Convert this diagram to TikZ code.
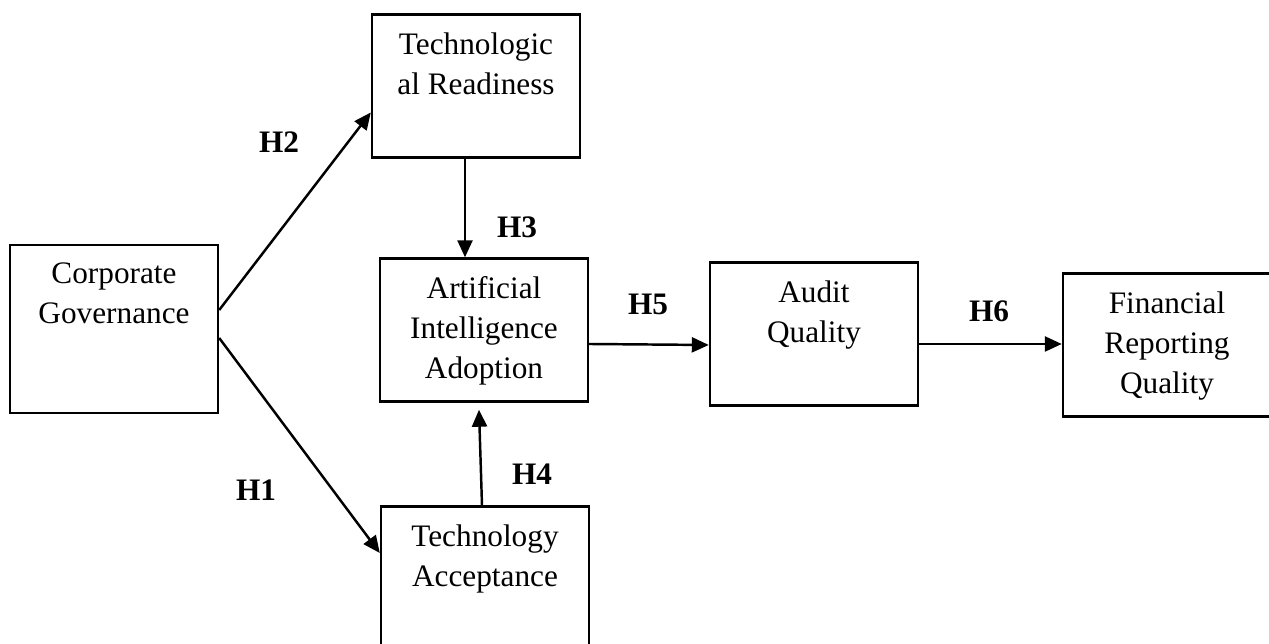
\documentclass[tikz,border=0pt]{standalone}
\usepackage{fontspec}
\setmainfont{Liberation Serif}
\usetikzlibrary{arrows.meta,positioning}

\tikzset{
  box/.style={draw, line width=1.4pt, minimum width=4.16cm, minimum height=2.86cm, inner sep=0pt},
  boxtext/.style={below=0.38cm, align=center, inner sep=0pt, font=\fontsize{17.8}{22.8}\selectfont},
  hyp/.style={inner sep=0pt, font=\bfseries\fontsize{17.8}{21}\selectfont},
  link/.style={line width=1.4pt, -{Triangle[length=0.34cm,width=0.3cm]}}
}

\begin{document}
\begin{tikzpicture}
  [x=0.02cm,y=-0.02cm]
\useasboundingbox (0,0) rectangle (1269,644);

\node (cg)[box, minimum height=3.36cm, label={[boxtext]north:Corporate\\Governance}] at (114,329) {};
  \node (tr)[box, label={[boxtext]north:Technologic\\al Readiness}] at (476,86) {};
  \node (ai)[box, label={[boxtext]north:Artificial\\Intelligence\\Adoption}] at (484,330) {};
  \node (aq)[box, label={[boxtext]north:Audit\\Quality}] at (814,334) {};
  \node (frq)[box, label={[boxtext]north:Financial\\Reporting\\Quality}] at (1167,345) {};
  \node (ta)[box, label={[boxtext]north:Technology\\Acceptance}] at (485,578) {};

 % hypotheses
 \node (h1)[hyp] at (256,490) {H1};
  \node (h2)[hyp] at (279,142) {H2};
  \node (h3)[hyp] at (517,227) {H3};
  \node (h4)[hyp] at (532,474) {H4};
  \node (h5)[hyp] at (648,304) {H5};
  \node (h6)[hyp] at (989,311) {H6};

 \draw[link] ([yshift=0.38cm]cg.east) -- ([yshift=-0.53cm]tr.west);
  \draw[link] ([yshift=-0.18cm]cg.east) -- ([yshift=0.5cm]ta.west);
  \draw[link] ([xshift=-0.22cm]tr.south) -- ([xshift=-0.22cm]tr.south |- ai.north);
  \draw[link] ([xshift=-0.06cm]ta.north) -- ([xshift=-0.1cm,yshift=-0.14cm]ai.south);
  \draw[link] ([yshift=-0.28cm]ai.east) -- ([yshift=-0.22cm]aq.west);
  \draw[link] ([yshift=-0.2cm]aq.east) -- ([yshift=-0.2cm]aq.east -| frq.west);

\end{tikzpicture}
\end{document}
